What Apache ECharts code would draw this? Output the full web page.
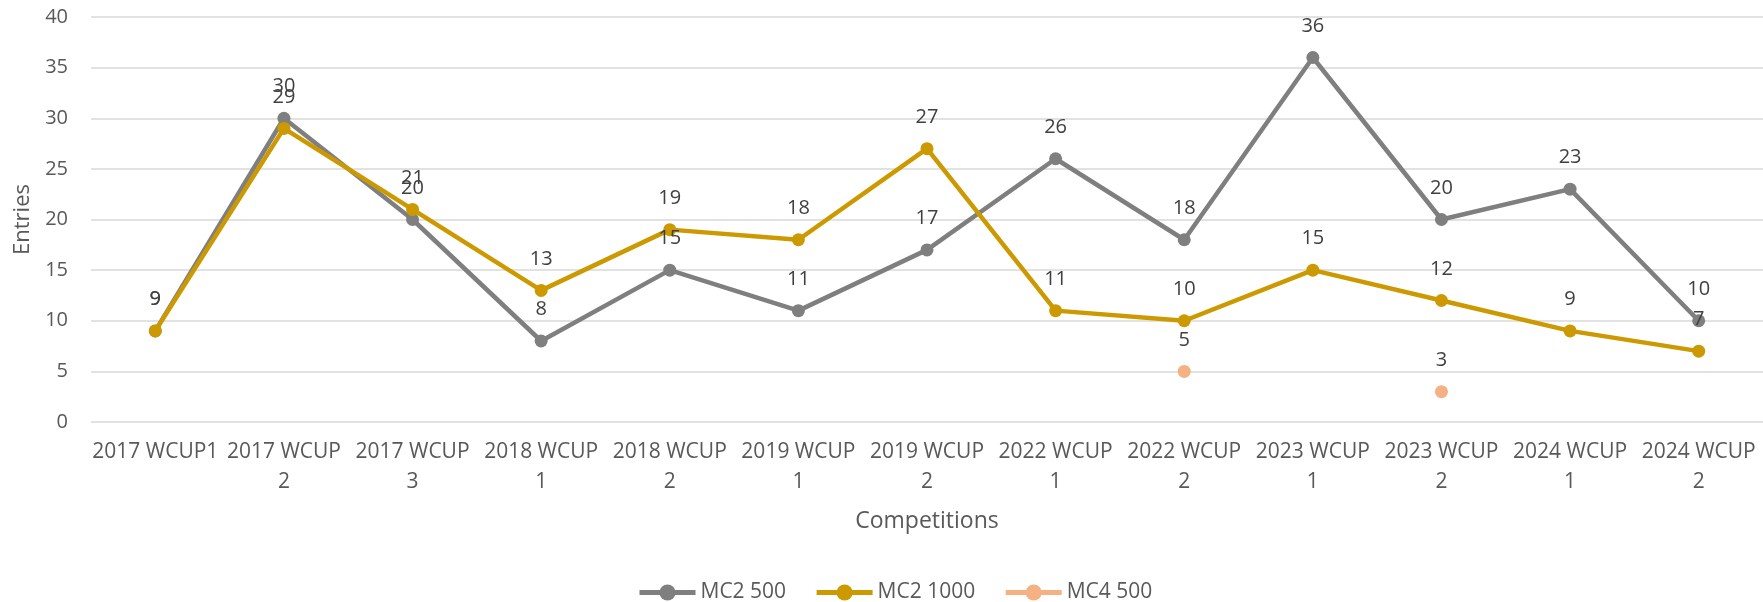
<!DOCTYPE html>
<html>
<head>
<meta charset="utf-8">
<script src="https://cdn.jsdelivr.net/npm/echarts@6/dist/echarts.min.js"></script>
<style>
  html, body { margin: 0; padding: 0; background: #fff; }
  #entriesChart { width: 1763px; height: 602px; }
</style>
</head>
<body>
<div id="entriesChart"></div>
<script>
// competitions on the x axis
var competitions = ['2017 WCUP1', '2017 WCUP 2', '2017 WCUP 3', '2018 WCUP 1', '2018 WCUP 2',
    '2019 WCUP 1', '2019 WCUP 2', '2022 WCUP 1', '2022 WCUP 2', '2023 WCUP 1',
    '2023 WCUP 2', '2024 WCUP 1', '2024 WCUP 2'];
// entries per series
var mc2_500 = [9, 30, 20, 8, 15, 11, 17, 26, 18, 36, 20, 23, 10];
var mc2_1000 = [9, 29, 21, 13, 19, 18, 27, 11, 10, 15, 12, 9, 7];
var mc4_500 = [null, null, null, null, null, null, null, null, 5, null, 3, null, null];
// y axis ticks
var yMin = 0, yMax = 40, yStep = 5;

var chart = echarts.init(document.getElementById('entriesChart'));
var font = '"Open Sans", "DejaVu Sans", sans-serif';

function seriesOf(name, data, color) {
    return {
        name: name,
        type: 'line',
        data: data,
        symbol: 'circle',
        symbolSize: 13,
        connectNulls: false,
        itemStyle: { color: color },
        lineStyle: { color: color, width: 4.5 },
        label: {
            show: true,
            position: 'top',
            distance: 15,
            fontFamily: font,
            fontSize: 20,
            color: '#404040'
        },
        emphasis: { disabled: true },
        animation: false
    };
}

var option = {
    textStyle: { fontFamily: font },
    grid: { left: 91, right: 0, top: 17, bottom: 180 },
    legend: {
        left: 632,
        top: 577,
        itemWidth: 56,
        itemHeight: 20,
        itemGap: 28,
        lineStyle: { width: 5 },
        textStyle: { fontFamily: font, fontSize: 21, color: '#595959' },
        data: ['MC2 500', 'MC2 1000', 'MC4 500']
    },
    xAxis: {
        type: 'category',
        data: competitions,
        boundaryGap: true,
        name: 'Competitions',
        nameLocation: 'middle',
        nameGap: 88,
        nameTextStyle: { fontFamily: font, fontSize: 23, color: '#595959' },
        axisLine: { show: false },
        axisTick: { show: false },
        axisLabel: {
            interval: 0,
            margin: 15,
            fontFamily: font,
            fontSize: 21,
            lineHeight: 30,
            color: '#595959',
            formatter: function (v) { return v.replace(/ (\d)$/, '\n$1'); }
        }
    },
    yAxis: {
        type: 'value',
        min: yMin,
        max: yMax,
        interval: yStep,
        name: 'Entries',
        nameLocation: 'middle',
        nameGap: 57,
        nameTextStyle: { fontFamily: font, fontSize: 22, color: '#595959' },
        axisLine: { show: false },
        axisTick: { show: false },
        axisLabel: { margin: 23, fontFamily: font, fontSize: 20, color: '#595959' },
        splitLine: { lineStyle: { color: '#d9d9d9', width: 1.5 } }
    },
    series: [
        seriesOf('MC2 500', mc2_500, '#7f7f7f'),
        seriesOf('MC2 1000', mc2_1000, '#cc9a00'),
        seriesOf('MC4 500', mc4_500, '#f4b183')
    ]
};

chart.setOption(option, true);
</script>
</body>
</html>
